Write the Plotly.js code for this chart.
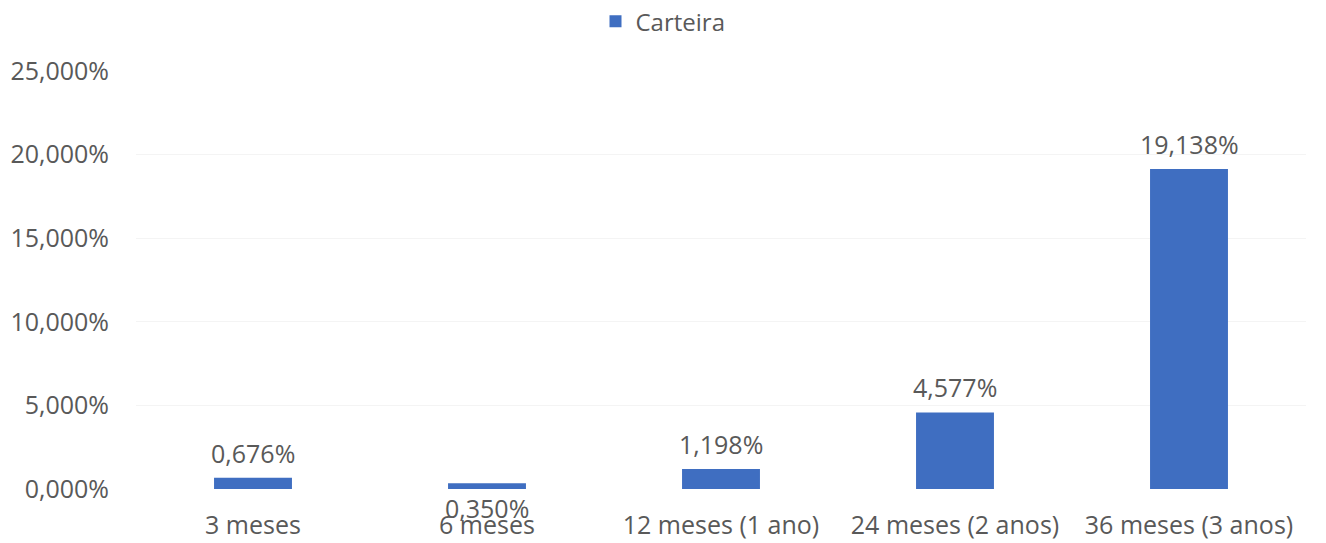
<!DOCTYPE html>
<html>
<head>
<meta charset="utf-8">
<script src="https://cdn.plot.ly/plotly-3.0.1.min.js"></script>
<style>html,body{margin:0;padding:0;background:#fff;}#chart{width:1326px;height:543px;}</style>
</head>
<body>
<div id="chart"></div>
<script>
const categories = ['3 meses', '6 meses', '12 meses (1 ano)', '24 meses (2 anos)', '36 meses (3 anos)'];
const carteira = [0.676, 0.350, 1.198, 4.577, 19.138];
const seriesName = 'Carteira';
const tickValues = [0, 5, 10, 15, 20, 25];
const tickLabels = ['0,000%', '5,000%', '10,000%', '15,000%', '20,000%', '25,000%'];
const labelSide = ['above', 'below', 'above', 'above', 'above'];

const fmt = v => v.toFixed(3).replace('.', ',') + '%';
const textColor = '#595959';
const font = 'Open Sans, sans-serif';
const fs = 25;

const annotations = categories.map((c, i) => {
  const above = labelSide[i] === 'above';
  return {
    x: c, y: above ? carteira[i] : 0, xref: 'x', yref: 'y',
    text: fmt(carteira[i]), showarrow: false,
    yanchor: above ? 'bottom' : 'top', yshift: above ? 6 : 0,
    font: {family: font, size: fs, color: textColor}
  };
});

const trace = {
  type: 'bar', x: categories, y: carteira, name: seriesName,
  marker: {color: '#3F6EC1'}, hoverinfo: 'skip', showlegend: true
};

const layout = {
  width: 1326, height: 543,
  margin: {l: 136, r: 20, t: 71, b: 54},
  paper_bgcolor: '#ffffff', plot_bgcolor: '#ffffff',
  bargap: 0.667,
  font: {family: font, size: fs, color: textColor},
  showlegend: true,
  legend: {orientation: 'h', xref: 'container', x: 0.5, xanchor: 'center', yref: 'container', y: 0.96, yanchor: 'middle',
           itemwidth: 30, font: {family: font, size: 24, color: textColor}},
  xaxis: {type: 'category', showgrid: false, zeroline: false, showline: false, ticks: '',
          ticklabelstandoff: 19, tickfont: {family: font, size: fs, color: textColor}},
  yaxis: {range: [0, 25], tickvals: tickValues, ticktext: tickLabels, showgrid: true, gridcolor: '#f4f4f4',
          zeroline: false, showline: false, ticks: '', ticklabelstandoff: 26,
          tickfont: {family: font, size: fs, color: textColor}},
  annotations: annotations
};

Plotly.newPlot('chart', [trace], layout, {displayModeBar: false, staticPlot: true});
</script>
</body>
</html>
